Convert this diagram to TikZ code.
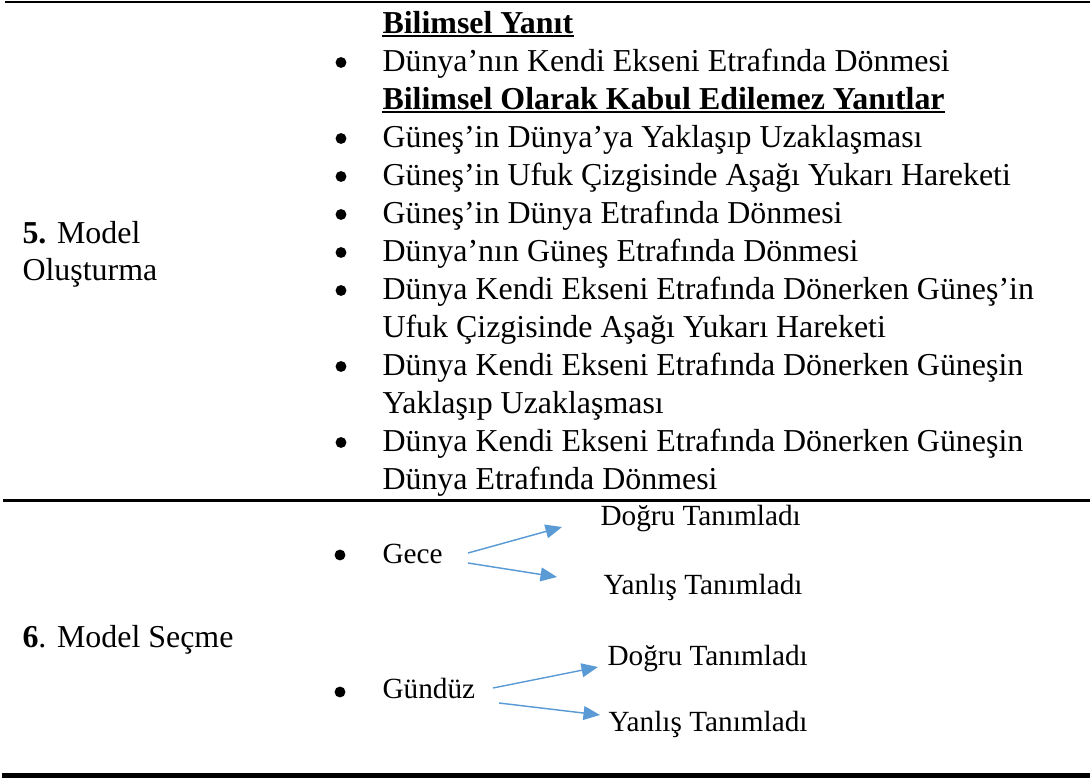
\documentclass[tikz,border=0pt]{standalone}
\usepackage{fontspec}
\setmainfont{Liberation Serif}
\usetikzlibrary{arrows.meta}
\definecolor{arrowblue}{HTML}{5B9BD5}
\begin{document}
\begin{tikzpicture}[x=0.376pt,y=-0.376pt,
  txt/.style={anchor=base west, inner sep=0pt, font=\fontsize{12}{14}\selectfont},
  stxt/.style={anchor=base west, inner sep=0pt, font=\fontsize{11}{13}\selectfont},
  head/.style={txt, font=\fontsize{12}{14}\selectfont\bfseries},
  bul/.style={circle, fill=black, inner sep=0pt, minimum size=4.1pt},
  arr/.style={draw=arrowblue, line width=0.55pt, -{Triangle[length=6.2pt,width=5.2pt]}},
  uline/.style={line width=0.75pt},
]
\useasboundingbox (0,0) rectangle (1090,778);
% rules
\draw[line width=0.75pt] (5,2) -- (1090,2);
\draw[line width=1.1pt] (3,500.5) -- (1090,500.5);
\draw[line width=1.9pt] (2,775.5) -- (1090,775.5);

% left column
\node[txt] (m5a) at (22,244) {\textbf{5.} Model};
\node[txt] (m5b) at (22,281) {Oluşturma};
\node[txt] (m6) at (22,647) {\textbf{6}. Model Seçme};

% list
\node[head] (h1) at (382,33.5) {Bilimsel Yanıt};
\draw[uline] ([yshift=-1.1pt]h1.base west) -- ([yshift=-1.1pt]h1.base east);
\node[txt] (l2) at (382,71.5) {Dünya’nın Kendi Ekseni Etrafında Dönmesi};
\node[head] (h3) at (382,109.5) {Bilimsel Olarak Kabul Edilemez Yanıtlar};
\draw[uline] ([yshift=-1.1pt]h3.base west) -- ([yshift=-1.1pt]h3.base east);
\node[txt] (l4) at (382,147.5) {Güneş’in Dünya’ya Yaklaşıp Uzaklaşması};
\node[txt] (l5) at (382,185.5) {Güneş’in Ufuk Çizgisinde Aşağı Yukarı Hareketi};
\node[txt] (l6) at (382,223.5) {Güneş’in Dünya Etrafında Dönmesi};
\node[txt] (l7) at (382,261.5) {Dünya’nın Güneş Etrafında Dönmesi};
\node[txt] (l8) at (382,299.5) {Dünya Kendi Ekseni Etrafında Dönerken Güneş’in};
\node[txt] (l9) at (382,337.5) {Ufuk Çizgisinde Aşağı Yukarı Hareketi};
\node[txt] (l10) at (382,375.5) {Dünya Kendi Ekseni Etrafında Dönerken Güneşin};
\node[txt] (l11) at (382,413.5) {Yaklaşıp Uzaklaşması};
\node[txt] (l12) at (382,451.5) {Dünya Kendi Ekseni Etrafında Dönerken Güneşin};
\node[txt] (l13) at (382,489.5) {Dünya Etrafında Dönmesi};

\foreach \yy/\nm in {71.5/b2,147.5/b4,185.5/b5,223.5/b6,261.5/b7,299.5/b8,375.5/b10,451.5/b12}
  \node[bul] (\nm) at (341,\yy-9) {};

% model secme
\node[bul] (bg) at (340,555) {};
\node[stxt] (gece) at (382,563) {Gece};
\node[stxt] (d1) at (600,526) {Doğru Tanımladı};
\node[stxt] (y1) at (603,595) {Yanlış Tanımladı};
\node[bul] (bd) at (340,692) {};
\node[stxt] (gunduz) at (382,699) {Gündüz};
\node[stxt] (d2) at (607,665) {Doğru Tanımladı};
\node[stxt] (y2) at (608,732) {Yanlış Tanımladı};

\coordinate (a1s) at (468,553); \coordinate (a1e) at (562,527);
\coordinate (a2s) at (468,563); \coordinate (a2e) at (557,577);
\coordinate (a3s) at (493,688); \coordinate (a3e) at (598,667);
\coordinate (a4s) at (499,703); \coordinate (a4e) at (600,715);
\draw[arr] (a1s) -- (a1e);
\draw[arr] (a2s) -- (a2e);
\draw[arr] (a3s) -- (a3e);
\draw[arr] (a4s) -- (a4e);
\end{tikzpicture}
\end{document}
